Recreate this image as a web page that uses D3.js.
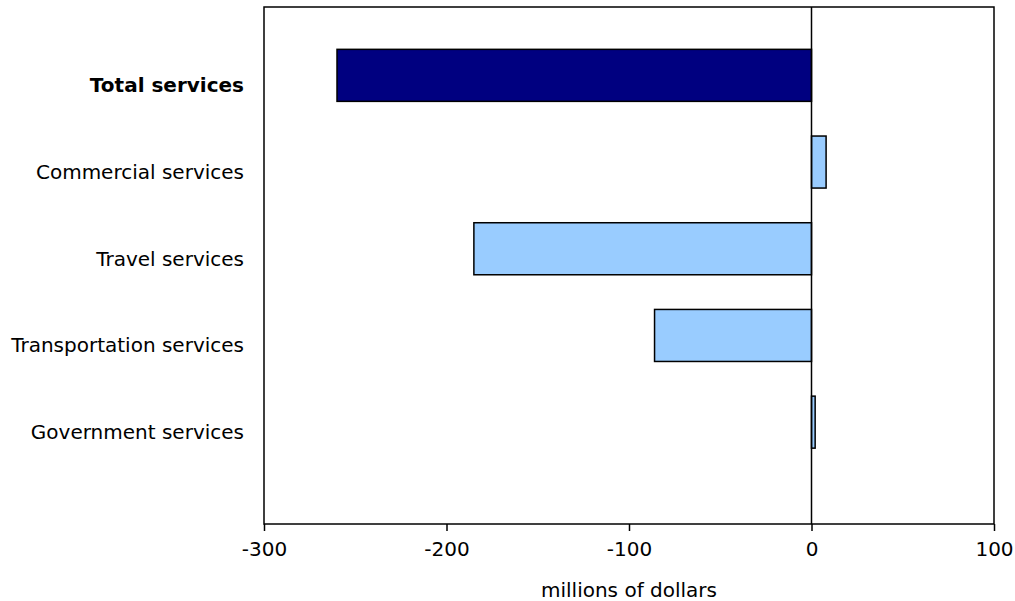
<!DOCTYPE html>
<html>
<head>
<meta charset="utf-8">
<script src="https://cdn.jsdelivr.net/npm/d3@7"></script>
<style>
  body { margin: 0; background: #fff; }
  text { font-family: "DejaVu Sans", Verdana, sans-serif; fill: #000; }
</style>
</head>
<body>
<div id="content"></div>
<script>
// chart data
var categories = ["Total services", "Commercial services", "Travel services", "Transportation services", "Government services"];
var values = [-260, 8, -185, -86, 2];
var barColors = ["#000080", "#99ccff", "#99ccff", "#99ccff", "#99ccff"];
var xTicks = [-300, -200, -100, 0, 100];

let width = 1015;
let height = 601;
var plot = {left: 264, right: 994, top: 7, bottom: 524};
var fontSize = "20px";

var svg = d3.select("#content").append("svg")
    .attr("width", width)
    .attr("height", height);

var xScale = d3.scaleLinear()
    .domain([-300, 100])
    .range([plot.left, plot.right]);

var yScale = d3.scaleBand()
    .domain(categories)
    .range([32, 465.5])
    .paddingInner(0.4)
    .paddingOuter(0.2);

// frame
svg.append("rect")
    .attr("x", plot.left)
    .attr("y", plot.top)
    .attr("width", plot.right - plot.left)
    .attr("height", plot.bottom - plot.top)
    .attr("fill", "none")
    .attr("stroke", "#000")
    .attr("stroke-width", 1.5);

// bars
svg.selectAll("rect.bar")
    .data(values)
    .enter().append("rect")
    .attr("class", "bar")
    .attr("x", function(d) { return xScale(Math.min(0, d)); })
    .attr("y", function(d, i) { return yScale(categories[i]); })
    .attr("width", function(d) { return Math.abs(xScale(d) - xScale(0)); })
    .attr("height", yScale.bandwidth())
    .attr("fill", function(d, i) { return barColors[i]; })
    .attr("stroke", "#000")
    .attr("stroke-width", 1.5);

// zero line
svg.append("line")
    .attr("x1", xScale(0)).attr("x2", xScale(0))
    .attr("y1", plot.top).attr("y2", plot.bottom)
    .attr("stroke", "#000")
    .attr("stroke-width", 1.5);

// x axis
var xAxis = d3.axisBottom(xScale)
    .tickValues(xTicks)
    .tickFormat(function(d) { return String(d); })
    .tickSize(7)
    .tickPadding(11);

var gx = svg.append("g")
    .attr("transform", "translate(0," + plot.bottom + ")")
    .call(xAxis);
gx.select(".domain").remove();
gx.selectAll("line").attr("stroke", "#000").attr("stroke-width", 1.5);
gx.selectAll("text")
    .style("font-family", "DejaVu Sans, Verdana, sans-serif")
    .style("font-size", fontSize);

// category labels
svg.selectAll("text.cat")
    .data(categories)
    .enter().append("text")
    .attr("class", "cat")
    .attr("x", 244)
    .attr("y", function(d) { return yScale(d) + yScale.bandwidth() / 2 + 10; })
    .attr("dy", "0.35em")
    .attr("text-anchor", "end")
    .style("font-size", fontSize)
    .style("font-weight", function(d, i) { return i === 0 ? "bold" : "normal"; })
    .text(function(d) { return d; });

// axis title
svg.append("text")
    .attr("x", 629)
    .attr("y", 590)
    .attr("dy", "0.35em")
    .attr("text-anchor", "middle")
    .style("font-size", fontSize)
    .text("millions of dollars");
</script>
</body>
</html>
